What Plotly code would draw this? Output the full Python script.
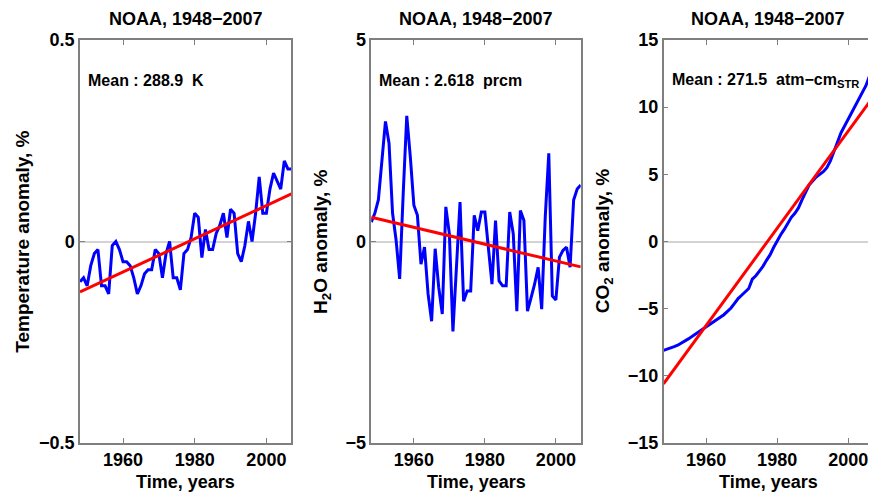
import plotly.graph_objects as go

years = list(range(1948, 2008))

temp_anom = [-0.10, -0.09, -0.11, -0.06, -0.03, -0.02, -0.11, -0.11, -0.13, -0.01,
             0.00, -0.02, -0.05, -0.05, -0.06, -0.09, -0.13, -0.11, -0.08, -0.07,
             -0.07, -0.02, -0.03, -0.09, -0.03, 0.00, -0.09, -0.09, -0.12, -0.03,
             -0.02, 0.01, 0.07, 0.06, -0.04, 0.03, -0.02, -0.02, 0.02, 0.04,
             0.07, 0.01, 0.08, 0.07, -0.03, -0.05, -0.01, 0.05, 0.00, 0.07,
             0.16, 0.07, 0.07, 0.13, 0.17, 0.15, 0.13, 0.20, 0.18, 0.18]

h2o_anom = [0.48, 0.70, 1.03, 2.00, 2.98, 2.44, 0.70, 0.03, -0.93, 1.19,
            3.12, 2.10, 0.90, 0.65, -0.56, -0.14, -1.30, -1.98, -0.18, -1.14,
            -1.80, 0.86, 0.19, -2.23, -0.48, 0.98, -1.48, -1.23, -1.23, 0.65,
            0.27, 0.73, 0.73, -0.22, -1.06, 0.52, -0.98, -1.10, -1.10, 0.73,
            0.19, -1.73, 0.77, 0.52, -1.73, -1.40, -1.06, -0.64, -1.68, 0.60,
            2.19, -1.35, -1.45, -0.39, -0.22, -0.14, -0.64, 1.03, 1.30, 1.40]

co2_anom = [-8.10, -8.02, -7.93, -7.83, -7.72, -7.58, -7.42, -7.25, -7.08, -6.90,
            -6.72, -6.55, -6.35, -6.17, -6.00, -5.82, -5.65, -5.45, -5.20, -4.95,
            -4.60, -4.25, -4.00, -3.75, -3.50, -2.80, -2.55, -2.20, -1.85, -1.40,
            -1.00, -0.45, 0.05, 0.50, 0.90, 1.40, 1.80, 2.10, 2.50, 3.10,
            3.70, 4.20, 4.50, 4.80, 5.00, 5.20, 5.50, 6.00, 6.70, 7.40,
            8.10, 8.60, 9.10, 9.60, 10.00, 10.50, 11.00, 11.60, 12.30, 13.00]

trend_years = [1948, 2007]
temp_trend = [-0.125, 0.118]
h2o_trend = [0.60, -0.63]
co2_trend = [-10.6, 10.75]

titles = ["NOAA, 1948\u22122007"] * 3
mean_texts = ["Mean : 288.9\u00a0 K",
              "Mean : 2.618\u00a0 prcm",
              "Mean : 271.5\u00a0 atm\u2212cm<sub>STR</sub>"]
ylabels = ["Temperature anomaly, %",
           "H<sub>2</sub>O anomaly, %",
           "CO<sub>2</sub> anomaly, %"]
xlabel = "Time, years"
x_ticks = [1960, 1980, 2000]
y_ranges = [[-0.5, 0.5], [-5, 5], [-15, 15]]
y_ticks = [[-0.5, 0, 0.5], [-5, 0, 5], [-15, -10, -5, 0, 5, 10, 15]]

FONT = "Liberation Sans, Arial, Helvetica, sans-serif"
# page body adds an 8px offset, so the figure is 8px smaller than the window
OFF = 8
W, H = 876 - OFF, 498 - OFF
ML, MR, MT, MB = 80 - OFF, 1, 40 - OFF, 55
PW = W - ML - MR
domains = [[0.0, 212 / PW], [(372 - 80) / PW, (582 - 80) / PW], [(665 - 80) / PW, 1.0]]
ylabel_px = [22, 322, 605]

fig = go.Figure()
series = [temp_anom, h2o_anom, co2_anom]
trends = [temp_trend, h2o_trend, co2_trend]
annotations = []
for i in range(3):
    sfx = "" if i == 0 else str(i + 1)
    fig.add_trace(go.Scatter(x=years, y=series[i], mode="lines",
                             line=dict(color="#0000ff", width=3),
                             xaxis="x" + sfx, yaxis="y" + sfx, showlegend=False))
    fig.add_trace(go.Scatter(x=trend_years, y=trends[i], mode="lines",
                             line=dict(color="#ff0000", width=3),
                             xaxis="x" + sfx, yaxis="y" + sfx, showlegend=False))
    axis_common = dict(showline=True, mirror="ticks", linecolor="#7f7f7f", linewidth=1.5,
                       ticks="inside", ticklen=5, tickcolor="#7f7f7f", tickwidth=1,
                       showgrid=False,
                       tickfont=dict(family=FONT, size=18, color="black", weight="bold"))
    fig.update_layout(**{
        "xaxis" + sfx: dict(domain=domains[i], range=[1948, 2007], tickvals=x_ticks,
                            anchor="y" + sfx, zeroline=False, **axis_common),
        "yaxis" + sfx: dict(domain=[0, 1], range=y_ranges[i], tickvals=y_ticks[i],
                            anchor="x" + sfx, zeroline=True, zerolinecolor="#d3d3d3",
                            zerolinewidth=1.5, **axis_common),
    })
    annotations.append(dict(text=titles[i], xref="x" + sfx + " domain", yref="paper",
                            x=0.5, y=1, xanchor="center", yanchor="middle", yshift=21,
                            showarrow=False,
                            font=dict(family=FONT, size=18, color="black", weight="bold")))
    annotations.append(dict(text=mean_texts[i], xref="x" + sfx + " domain", yref="paper",
                            x=0, y=1, xanchor="left", yanchor="middle", xshift=6, yshift=-40,
                            showarrow=False,
                            font=dict(family=FONT, size=16, color="black", weight="bold")))
    annotations.append(dict(text=xlabel, xref="x" + sfx + " domain", yref="paper",
                            x=0.5, y=0, xanchor="center", yanchor="middle", yshift=-39,
                            showarrow=False,
                            font=dict(family=FONT, size=18, color="black", weight="bold")))
    annotations.append(dict(text=ylabels[i], xref="paper", yref="paper",
                            x=(ylabel_px[i] - 80) / PW, y=0.5, xanchor="center",
                            yanchor="middle", textangle=-90, showarrow=False,
                            font=dict(family=FONT, size=19, color="black", weight="bold")))

fig.update_layout(width=W, height=H, margin=dict(l=ML, r=MR, t=MT, b=MB),
                  paper_bgcolor="white", plot_bgcolor="white",
                  font=dict(family=FONT, color="black"),
                  annotations=annotations)

fig.write_html("out.html")
